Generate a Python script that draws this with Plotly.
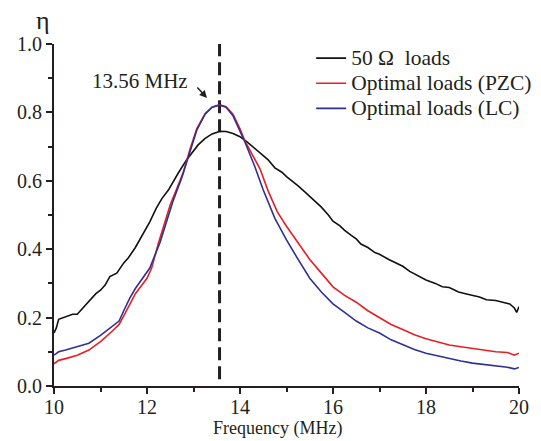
import plotly.graph_objects as go

# ---- data ----
freq_black = [10.0, 10.05, 10.1, 10.2, 10.3, 10.4, 10.5, 10.6, 10.75, 10.9, 11.0, 11.1, 11.2, 11.35, 11.5,
              11.6, 11.75, 11.9, 12.06, 12.2, 12.32, 12.46, 12.57, 12.67, 12.85, 13.0, 13.1, 13.25, 13.4,
              13.57, 13.7, 13.85, 14.0, 14.15, 14.32, 14.45, 14.6, 14.75, 14.9, 15.0, 15.15, 15.25,
              15.4, 15.5, 15.65, 15.75, 15.9, 16.0, 16.15, 16.25, 16.4, 16.5, 16.6, 16.75, 16.9, 17.0,
              17.2, 17.35, 17.5, 17.65, 17.8, 18.0, 18.2, 18.35, 18.5, 18.7, 18.85, 19.0, 19.15, 19.3,
              19.5, 19.65, 19.8, 19.9, 19.95, 20.0]
eta_black = [0.155, 0.17, 0.195, 0.20, 0.205, 0.21, 0.21, 0.225, 0.245, 0.27, 0.28, 0.295, 0.32, 0.33, 0.36,
             0.375, 0.405, 0.44, 0.48, 0.52, 0.548, 0.573, 0.60, 0.622, 0.661, 0.688, 0.705, 0.724, 0.737,
             0.745, 0.744, 0.738, 0.729, 0.714, 0.695, 0.68, 0.662, 0.638, 0.625, 0.612, 0.597, 0.585,
             0.567, 0.555, 0.537, 0.523, 0.50, 0.482, 0.468, 0.455, 0.44, 0.43, 0.415, 0.405, 0.39, 0.385,
             0.37, 0.36, 0.35, 0.335, 0.325, 0.31, 0.30, 0.29, 0.288, 0.275, 0.27, 0.265, 0.26, 0.252,
             0.25, 0.245, 0.24, 0.228, 0.215, 0.232]

freq_pzc = [10.0, 10.1, 10.25, 10.5, 10.75, 11.0, 11.25, 11.4, 11.5, 11.63, 11.75, 12.0, 12.1, 12.25, 12.4,
            12.5, 12.65, 12.78, 12.92, 13.07, 13.25, 13.4, 13.56, 13.7, 13.85, 14.0, 14.11, 14.25, 14.43,
            14.6, 14.8, 15.0, 15.22, 15.5, 15.75, 16.0, 16.25, 16.5, 16.75, 17.0, 17.25, 17.5, 17.75,
            18.0, 18.25, 18.5, 18.75, 19.0, 19.25, 19.5, 19.75, 19.9, 20.0]
eta_pzc = [0.065, 0.075, 0.08, 0.09, 0.105, 0.13, 0.16, 0.18, 0.205, 0.24, 0.27, 0.315, 0.345, 0.42, 0.49,
           0.53, 0.58, 0.625, 0.69, 0.752, 0.797, 0.815, 0.822, 0.817, 0.795, 0.752, 0.715, 0.68, 0.635,
           0.572, 0.51, 0.467, 0.425, 0.37, 0.33, 0.29, 0.265, 0.245, 0.22, 0.20, 0.18, 0.165, 0.15,
           0.138, 0.128, 0.12, 0.115, 0.11, 0.105, 0.10, 0.098, 0.09, 0.096]

freq_lc = [10.0, 10.1, 10.25, 10.5, 10.75, 11.0, 11.25, 11.4, 11.5, 11.63, 11.75, 12.06, 12.28, 12.4,
           12.57, 12.75, 12.92, 13.07, 13.25, 13.4, 13.56, 13.7, 13.85, 14.0, 14.11, 14.32, 14.5, 14.75,
           15.0, 15.25, 15.5, 15.75, 16.0, 16.25, 16.5, 16.75, 17.0, 17.25, 17.5, 17.75, 18.0, 18.25,
           18.5, 18.75, 19.0, 19.25, 19.5, 19.75, 19.9, 20.0]
eta_lc = [0.09, 0.10, 0.105, 0.115, 0.125, 0.148, 0.175, 0.19, 0.22, 0.257, 0.285, 0.345, 0.42, 0.47,
          0.545, 0.61, 0.685, 0.748, 0.795, 0.815, 0.822, 0.815, 0.79, 0.745, 0.712, 0.641, 0.573, 0.49,
          0.427, 0.37, 0.315, 0.275, 0.24, 0.215, 0.19, 0.17, 0.155, 0.135, 0.12, 0.107, 0.096, 0.088,
          0.08, 0.073, 0.067, 0.063, 0.058, 0.055, 0.05, 0.054]

marker_freq = [13.56, 13.56]
marker_eta = [0.02, 1.0]

x_ticks = [10, 12, 14, 16, 18, 20]
y_ticks = [0.0, 0.2, 0.4, 0.6, 0.8, 1.0]
y_ticklabels = ["0.0", "0.2", "0.4", "0.6", "0.8", "1.0"]

SERIF = "Liberation Serif"
TXT = "#231f20"
LEG = '<span style="font-size:21.5px">{}</span>'

fig = go.Figure()
fig.add_trace(go.Scatter(x=marker_freq, y=marker_eta, mode="lines", showlegend=False,
                         line=dict(color="#231f20", width=3, dash="13px,6px")))
fig.add_trace(go.Scatter(x=freq_black, y=eta_black, mode="lines", name=LEG.format("50 Ω&nbsp; loads"),
                         line=dict(color="#111111", width=1.6)))
fig.add_trace(go.Scatter(x=freq_pzc, y=eta_pzc, mode="lines", name=LEG.format("Optimal loads (PZC)"),
                         line=dict(color="#ed1c24", width=1.6)))
fig.add_trace(go.Scatter(x=freq_lc, y=eta_lc, mode="lines", name=LEG.format("Optimal loads (LC)"),
                         line=dict(color="#2e3192", width=1.6)))

axis_common = dict(showgrid=False, zeroline=False, showline=True, linecolor=TXT, linewidth=2,
                   ticks="outside", ticklen=6, tickwidth=2, tickcolor=TXT,
                   tickfont=dict(family=SERIF, size=20, color=TXT), mirror=False)

fig.update_xaxes(range=[10, 20], tickvals=x_ticks, ticktext=[str(v) for v in x_ticks],
                 ticklabelstandoff=-4,
                 minor=dict(dtick=1, ticklen=4, tickwidth=1.5, tickcolor=TXT, ticks="outside"),
                 **axis_common)
fig.update_yaxes(range=[0, 1.0], tickvals=y_ticks, ticktext=y_ticklabels,
                 minor=dict(dtick=0.1, ticklen=4, tickwidth=1.5, tickcolor=TXT, ticks="outside"),
                 **axis_common)

fig.update_layout(
    width=541, height=441,
    margin=dict(l=54, r=22, t=44, b=55, autoexpand=False),
    paper_bgcolor="white", plot_bgcolor="white",
    font=dict(family=SERIF, size=17, color=TXT),
    legend=dict(x=0.553, y=1.01, xanchor="left", yanchor="top", bgcolor="rgba(0,0,0,0)",
                font=dict(family=SERIF, size=17, color=TXT), tracegroupgap=0),
    annotations=[
        dict(text="η", xref="paper", yref="paper", x=-0.024, y=1.07, showarrow=False,
             xanchor="center", yanchor="middle", font=dict(family=SERIF, size=26, color=TXT)),
        dict(text="Frequency (MHz)", xref="paper", yref="paper", x=0.48, y=-0.123, showarrow=False,
             xanchor="center", yanchor="middle", font=dict(family=SERIF, size=18, color=TXT)),
        dict(text="13.56 MHz", xref="x", yref="y", x=11.85, y=0.892, showarrow=False,
             xanchor="center", yanchor="middle", font=dict(family=SERIF, size=21, color=TXT)),
        dict(text="", xref="x", yref="y", x=13.29, y=0.842, ax=-11, ay=-12, showarrow=True,
             arrowhead=2, arrowsize=1, arrowwidth=1.5, arrowcolor=TXT),
    ],
)

fig.write_html("out.html")
